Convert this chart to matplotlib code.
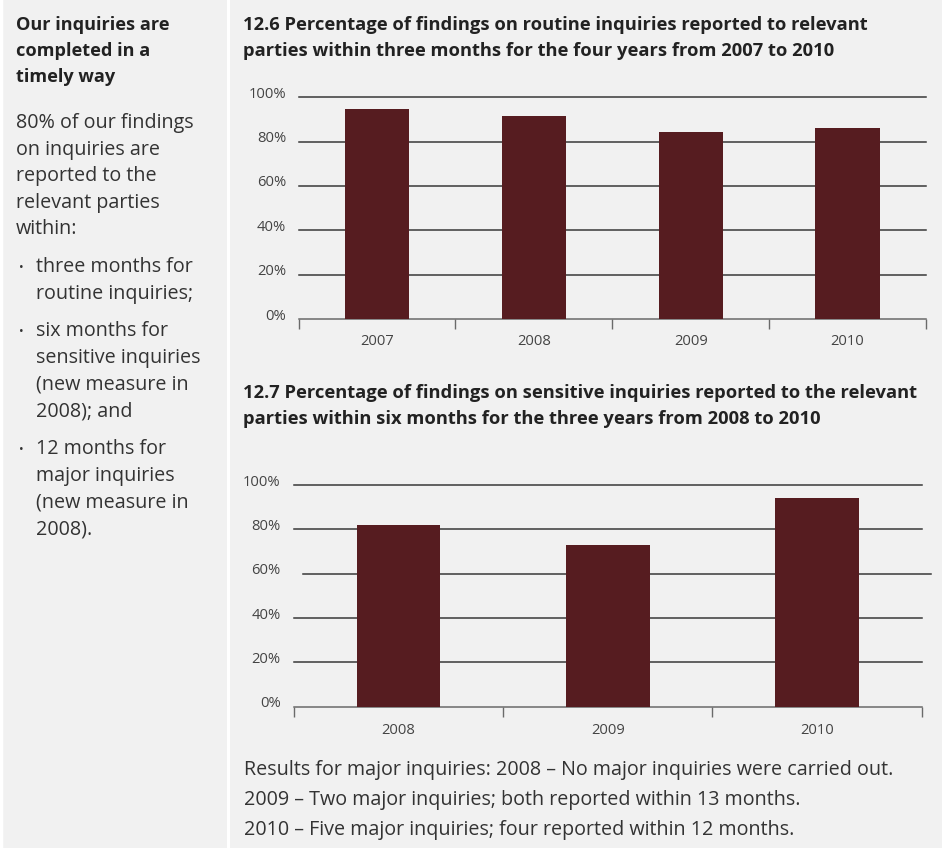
import matplotlib
matplotlib.use("Agg")
import matplotlib.pyplot as plt
import matplotlib.transforms as mtransforms
import numpy as np

W, H = 942, 848
BG = "#f1f1f1"
BAR = "#561c20"
TXT = "#333333"
FONT = "Open Sans"

# ---- data ----
years_routine = ["2007", "2008", "2009", "2010"]
pct_routine = [94.7, 91.6, 84.3, 86.1]
years_sensitive = ["2008", "2009", "2010"]
pct_sensitive = [82.0, 72.9, 94.1]
y_ticks = [0, 20, 40, 60, 80, 100]
y_tick_labels = ["0%", "20%", "40%", "60%", "80%", "100%"]

title_routine = ["12.6 Percentage of findings on routine inquiries reported to relevant",
                 "parties within three months for the four years from 2007 to 2010"]
title_sensitive = ["12.7 Percentage of findings on sensitive inquiries reported to the relevant",
                   "parties within six months for the three years from 2008 to 2010"]
side_heading = ["Our inquiries are", "completed in a", "timely way"]
side_body = ["80% of our findings", "on inquiries are", "reported to the",
             "relevant parties", "within:"]
side_bullets = [["three months for", "routine inquiries;"],
                ["six months for", "sensitive inquiries", "(new measure in", "2008); and"],
                ["12 months for", "major inquiries", "(new measure in", "2008)."]]
footnote = ["Results for major inquiries: 2008 \u2013 No major inquiries were carried out.",
            "2009 \u2013 Two major inquiries; both reported within 13 months.",
            "2010 \u2013 Five major inquiries; four reported within 12 months."]

plt.rcParams["font.family"] = [FONT, "DejaVu Sans"]

fig = plt.figure(figsize=(W / 100, H / 100), dpi=100, facecolor=BG)


def px_axes(x0, x1, y_top, y_bot):
    return fig.add_axes([x0 / W, 1 - y_bot / H, (x1 - x0) / W, (y_bot - y_top) / H])


def fx(x):
    return x / W


def fy(y):
    return 1 - y / H


# separators
fig.add_artist(plt.Line2D([fx(228), fx(228)], [0, 1], color="white", lw=2.2,
                          transform=fig.transFigure))
fig.add_artist(plt.Line2D([fx(1), fx(1)], [0, 1], color="white", lw=2.5,
                          transform=fig.transFigure))


def bar_chart(ax, cats, vals, width, pad, xpad, grid_shift=None):
    grid_shift = grid_shift or {}
    n = len(cats)
    x = np.arange(n)
    ax.set_facecolor(BG)
    ax.set_xlim(-0.5, n - 0.5)
    ax.set_ylim(0, 100)
    ax.set_yticks(y_ticks)
    ax.set_yticklabels(y_tick_labels)
    ax.tick_params(axis="y", length=0, pad=pad, labelsize=10.6, labelcolor="#444444")
    up = mtransforms.ScaledTranslation(0, 0.05, fig.dpi_scale_trans)
    for lab in ax.get_yticklabels():
        lab.set_transform(lab.get_transform() + up)
    for v in y_ticks[1:]:
        s = grid_shift.get(v, 0.0)
        ax.axhline(v, xmin=s, xmax=1 + s, color="#383838", lw=1.1, zorder=1,
                   clip_on=False)
    ax.bar(x, vals, width=width, color=BAR, zorder=3)
    for s in ["left", "right", "top"]:
        ax.spines[s].set_visible(False)
    ax.spines["bottom"].set_color("#6a6a6a")
    ax.spines["bottom"].set_linewidth(1.1)
    ax.set_xticks(np.arange(n + 1) - 0.5)
    ax.set_xticklabels([])
    ax.tick_params(axis="x", which="major", length=7, width=1.0, color="#6a6a6a",
                   direction="out")
    ax.set_xticks(x, minor=True)
    ax.set_xticklabels(cats, minor=True)
    ax.tick_params(axis="x", which="minor", length=0, pad=xpad, labelsize=10.6,
                   labelcolor="#444444")


ax1 = px_axes(298.6, 926, 97.3, 319)
bar_chart(ax1, years_routine, pct_routine, 0.41, 9, 11)

ax2 = px_axes(294, 921.5, 485, 706.7)
bar_chart(ax2, years_sensitive, pct_sensitive, 0.40, 9.5, 12, grid_shift={60: 0.015})

# titles
for i, line in enumerate(title_routine):
    fig.text(fx(243), fy(25 + 25.5 * i), line, ha="left", va="center", fontsize=13.25,
             fontweight="bold", color="#222222")
for i, line in enumerate(title_sensitive):
    fig.text(fx(243), fy(393 + 26 * i), line, ha="left", va="center", fontsize=13.25,
             fontweight="bold", color="#222222")

# side panel
for i, line in enumerate(side_heading):
    fig.text(fx(16), fy(25 + 26.2 * i), line, ha="left", va="center", fontsize=13.1,
             fontweight="bold", color="#222222")
for i, line in enumerate(side_body):
    fig.text(fx(16), fy(123 + 26.6 * i), line, ha="left", va="center", fontsize=14.2,
             color=TXT)
y = 267
for item in side_bullets:
    fig.text(fx(19.5), fy(y), "\u2022", ha="left", va="center", fontsize=9, color=TXT)
    for j, line in enumerate(item):
        fig.text(fx(36), fy(y + 26.7 * j), line, ha="left", va="center", fontsize=14.2,
                 color=TXT)
    y += 26.7 * len(item) + 11

# footnote
for i, line in enumerate(footnote):
    fig.text(fx(244), fy(770 + 29.8 * i), line, ha="left", va="center", fontsize=14.2,
             color=TXT)

fig.savefig("out.png", dpi=100, facecolor=BG)
